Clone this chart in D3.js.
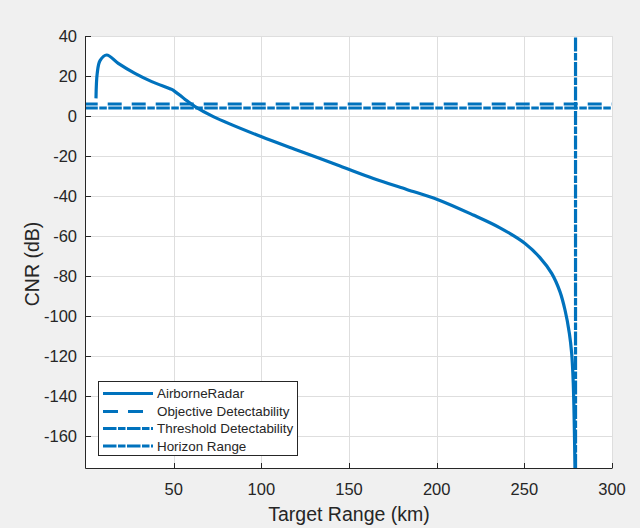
<!DOCTYPE html>
<html><head><meta charset="utf-8">
<script src="https://cdn.jsdelivr.net/npm/d3@7"></script>
<style>
html,body{margin:0;padding:0;background:#f0f0f0;}
text{font-family:Arial,"Liberation Sans",Helvetica,sans-serif;fill:#262626;}
</style></head>
<body>
<svg id="c" width="640" height="528"></svg>
<script>
// Data
const rangeKm = [5.7, 6.4, 8.0, 11.8, 18.4, 27.9, 37.5, 48.9, 50.2, 53.6, 56.5, 62.2, 72.6, 99.8, 120.2, 144.9, 163.9, 182.9, 200.4, 220.9, 236.1, 250.4, 258.9, 265.6, 270.3, 273.2, 275.7, 277.0, 277.9, 278.9];
const cnrDb   = [8.8, 21.3, 27.7, 30.5, 26.3, 21.3, 17.2, 13.3, 12.6, 10.4, 8.3, 4.7, -0.3, -10.3, -17, -25, -31.2, -36.7, -41.7, -49.5, -55.9, -63.7, -70.8, -78.7, -87.8, -97, -108.7, -118.7, -133.5, -176];
const objectiveDb = 6;
const thresholdDb = 4;
const horizonKm = 279.2;
const xTicks = [50, 100, 150, 200, 250, 300];
const yTicks = [-160, -140, -120, -100, -80, -60, -40, -20, 0, 20, 40];
const legendLabels = ["AirborneRadar", "Objective Detectability", "Threshold Detectability", "Horizon Range"];

const blue = "#0072BD";
const L = 86, R = 612, T = 36, B = 468;
const svg = d3.select("#c");
const x = d3.scaleLinear().domain([0, 300]).range([L, R]);
const y = d3.scaleLinear().domain([-176, 40]).range([B, T]);

svg.append("rect").attr("x", L).attr("y", T).attr("width", R - L).attr("height", B - T).attr("fill", "#fff");

// grid
const g = svg.append("g");
g.selectAll(".gx").data(xTicks).enter().append("line")
  .attr("x1", d => Math.round(x(d)) + 0.5).attr("x2", d => Math.round(x(d)) + 0.5)
  .attr("y1", T).attr("y2", B).attr("stroke", "#dedede").attr("stroke-width", 1);
g.selectAll(".gy").data(yTicks).enter().append("line")
  .attr("y1", d => Math.round(y(d)) + 0.5).attr("y2", d => Math.round(y(d)) + 0.5)
  .attr("x1", L).attr("x2", R).attr("stroke", "#dedede").attr("stroke-width", 1);

// clip
svg.append("clipPath").attr("id", "clip").append("rect")
  .attr("x", L).attr("y", T).attr("width", R - L).attr("height", B - T);
const plot = svg.append("g").attr("clip-path", "url(#clip)");

// threshold lines
plot.append("line").attr("x1", x(0)).attr("x2", x(300))
  .attr("y1", y(thresholdDb)).attr("y2", y(thresholdDb))
  .attr("stroke", blue).attr("stroke-width", 3.2)
  .attr("stroke-dasharray", "13.5,1.5,7.5,1.5").attr("stroke-dashoffset", 1.7);
plot.append("line").attr("x1", x(0)).attr("x2", x(300))
  .attr("y1", y(objectiveDb)).attr("y2", y(objectiveDb))
  .attr("stroke", blue).attr("stroke-width", 3.2)
  .attr("stroke-dasharray", "14,10").attr("stroke-dashoffset", 2.3);
// horizon
plot.append("line").attr("x1", x(horizonKm)).attr("x2", x(horizonKm))
  .attr("y1", B).attr("y2", T)
  .attr("stroke", blue).attr("stroke-width", 3.2)
  .attr("stroke-dasharray", "14,1.5,7.5,1.5");

// curve
const pts = rangeKm.map((r, i) => [r, cnrDb[i]]);
plot.append("path").datum(pts)
  .attr("d", d3.line().x(d => x(d[0])).y(d => y(d[1])).curve(d3.curveCatmullRom.alpha(0.5)))
  .attr("fill", "none").attr("stroke", blue).attr("stroke-width", 3.2)
  .attr("stroke-linejoin", "round");

// axes
const axc = "#262626";
svg.append("line").attr("x1", L - 0.5).attr("x2", L - 0.5).attr("y1", T).attr("y2", B + 0.5).attr("stroke", axc);
svg.append("line").attr("x1", L - 0.5).attr("x2", R + 0.5).attr("y1", B + 0.5).attr("y2", B + 0.5).attr("stroke", axc);
svg.selectAll(".tx").data(xTicks).enter().append("line")
  .attr("x1", d => Math.round(x(d)) + 0.5).attr("x2", d => Math.round(x(d)) + 0.5)
  .attr("y1", B).attr("y2", B - 5).attr("stroke", axc);
svg.selectAll(".ty").data(yTicks).enter().append("line")
  .attr("y1", d => Math.round(y(d)) + 0.5).attr("y2", d => Math.round(y(d)) + 0.5)
  .attr("x1", L).attr("x2", L + 5).attr("stroke", axc);

svg.selectAll(".lx").data(xTicks).enter().append("text")
  .attr("x", d => x(d)).attr("y", 495).attr("text-anchor", "middle")
  .attr("font-size", 16.5).text(d => d);
svg.selectAll(".ly").data(yTicks).enter().append("text")
  .attr("x", 77).attr("y", d => y(d) + 6).attr("text-anchor", "end")
  .attr("font-size", 16.5).text(d => d);

svg.append("text").attr("x", (L + R) / 2).attr("y", 521).attr("text-anchor", "middle")
  .attr("font-size", 19.5).text("Target Range (km)");
svg.append("text").attr("transform", `translate(39,${(T + B) / 2 + 12}) rotate(-90)`)
  .attr("text-anchor", "middle").attr("font-size", 19.5).text("CNR (dB)");

// legend
const lg = svg.append("g");
lg.append("rect").attr("x", 98.5).attr("y", 381.5).attr("width", 199).attr("height", 74)
  .attr("fill", "#fff").attr("stroke", axc).attr("stroke-width", 1);
const dashes = [null, "15,10", "13.5,1.5,7.5,1.5", "13.5,1.5,7.5,1.5"];
const rowY = [393.5, 411.5, 428.5, 446];
legendLabels.forEach((lab, i) => {
  const ln = lg.append("line").attr("x1", 103).attr("x2", 153)
    .attr("y1", rowY[i]).attr("y2", rowY[i]).attr("stroke", blue).attr("stroke-width", 3);
  if (dashes[i]) ln.attr("stroke-dasharray", dashes[i]);
  lg.append("text").attr("x", 157).attr("y", rowY[i] + 4.5).attr("font-size", 13.4).text(lab);
});
</script>
</body></html>
